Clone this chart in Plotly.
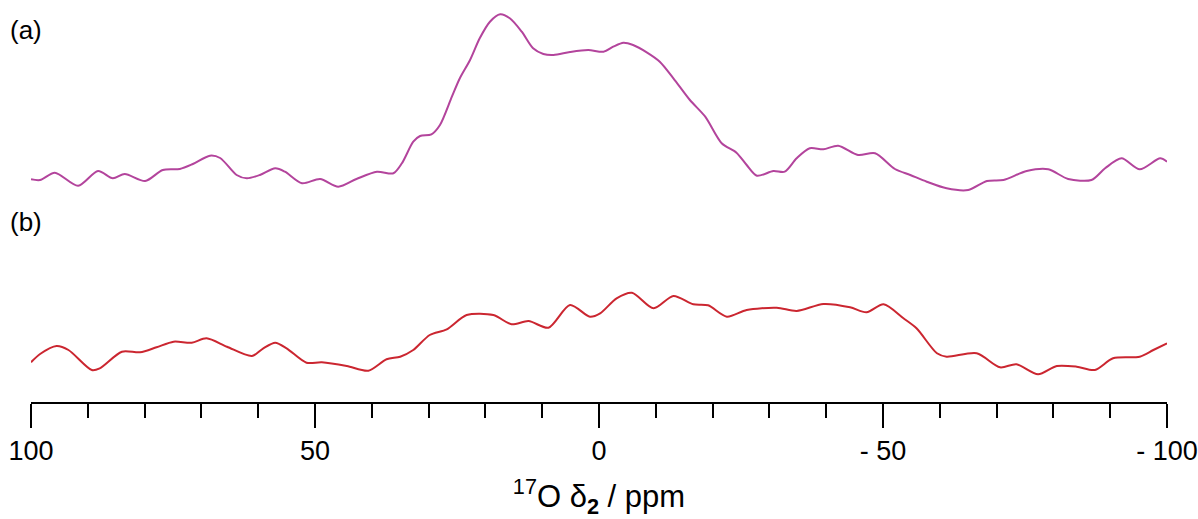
import plotly.graph_objects as go

# ---- data (chemical shift in ppm, intensity in arbitrary units) ----
ppm_a = [100, 98.4, 95.8, 91.7, 88.2, 85.6, 83.5, 79.9, 76.8, 73.8, 71.5, 68.5, 66.7, 63.8, 62.0,
         59.7, 57.0, 55.3, 52.3, 49.1, 45.9, 42.7, 39.1, 36.2, 34.7, 32.7, 31.5, 29.5, 28.0, 25.9,
         24.5, 22.7, 21.0, 19.2, 17.4, 15.7, 13.6, 11.6, 9.8, 8.0, 5.1, 1.9, -0.8, -2.5, -4.3,
         -6.0, -8.4, -10.7, -13.1, -16.0, -18.7, -21.6, -24.2, -26.0, -27.8, -30.7, -32.7, -34.8,
         -37.1, -39.5, -42.1, -45.6, -48.6, -52.1, -54.8, -57.7, -61.2, -65.0, -68.3, -71.2,
         -75.3, -79.1, -82.6, -86.7, -89.1, -92.0, -95.2, -98.8, -100]
int_a = [-1.3, -2, 5.3, -7.7, 7, -0.3, 4, -3, 8, 9, 14, 22.3, 20, 3, -0.3,
         3, 9.7, 6.3, -5.3, -1, -8.7, -1, 6.3, 4.7, 14.7, 36.3, 42, 43.7, 53, 81.3,
         99.7, 118, 139.7, 156.3, 163.7, 159.7, 146.3, 129.7, 124, 123, 126, 128, 126.3, 131.3, 135.3,
         133, 125.7, 116.3, 99.7, 78, 61.3, 34.7, 25.3, 13, 2.3, 7, 6.3, 19.7,
         29.7, 28.7, 32.3, 23, 24.7, 9, 3, -3.7, -10.3, -12, -3, -2,
         7, 8.7, -1, -2, 9.7, 19.7, 8.7, 19.7, 16.3]

ppm_b = [100, 98.4, 95.5, 93.4, 89.3, 87.9, 84.0, 80.8, 77.9, 74.9, 71.7, 69.1, 65.5, 61.1, 59.1,
         57.0, 55.0, 51.5, 48.8, 44.4, 40.6, 37.4, 35.0, 32.7, 29.8, 26.8, 23.3, 18.6, 15.4, 12.4,
         8.9, 5.1, 1.6, -0.2, -3.1, -5.8, -9.6, -13.1, -16.6, -19.2, -22.5, -26.0, -31.3, -34.8,
         -39.5, -44.2, -47.1, -50.1, -53.6, -55.9, -59.5, -61.2, -66.5, -70.6, -73.5, -77.3, -80.6,
         -84.1, -87.3, -90.5, -95.2, -97.6, -100]
int_b = [2.7, 11, 19, 15, -5, -3.3, 13.3, 12.7, 17.7, 23.3, 22.3, 26.7, 18.3, 9, 16.7,
         22.3, 16.7, 2.3, 2.7, -1, -5.7, 5.7, 8.3, 15, 30, 35.7, 50, 50, 40.7, 44,
         37.3, 60, 48.3, 51.7, 66.7, 72.3, 56.7, 69, 60.7, 59.7, 48.3, 55, 57.3, 54,
         61, 57.7, 52.7, 60.7, 46.7, 36.7, 11.7, 8.3, 11.7, -2.3, 0.7, -9.3, -1,
         -1.7, -5, 6.7, 8.3, 15, 21.7]

tick_vals = [100, 50, 0, -50, -100]
tick_text = ["100", "50", "0", "- 50", "- 100"]
labels = ["(a)", "(b)"]

OFFSET_A = 224
OFFSET_B = 37

fig = go.Figure()
fig.add_trace(go.Scatter(x=ppm_a, y=[v + OFFSET_A for v in int_a], mode="lines",
                         line=dict(color="#B3449C", width=2, shape="spline", smoothing=0.8),
                         showlegend=False, hoverinfo="skip"))
fig.add_trace(go.Scatter(x=ppm_b, y=[v + OFFSET_B for v in int_b], mode="lines",
                         line=dict(color="#CB2630", width=2, shape="spline", smoothing=0.8),
                         showlegend=False, hoverinfo="skip"))

fig.update_layout(
    width=1198, height=519,
    margin=dict(l=31, r=31, t=0, b=117),
    paper_bgcolor="white", plot_bgcolor="white",
    font=dict(family="Liberation Sans, Arial, sans-serif", color="black"),
    xaxis=dict(
        range=[100, -100], showgrid=False, zeroline=False,
        showline=True, linecolor="black", linewidth=1.5,
        ticks="outside", ticklen=24, tickwidth=1.5, tickcolor="black",
        tickvals=tick_vals, ticktext=tick_text,
        tickfont=dict(size=27, color="black"),
        ticklabelstandoff=0,
        minor=dict(ticks="outside", ticklen=14, tickwidth=1.5, tickcolor="black", dtick=10, showgrid=False),
        title=dict(text="<sup>17</sup>O δ<sub><b>2</b></sub> / ppm",
                   font=dict(size=31, color="black"), standoff=22),
    ),
    yaxis=dict(range=[0, 402], visible=False, showgrid=False, zeroline=False),
)

for lab, ypx in zip(labels, [30, 222]):
    fig.add_annotation(text=lab, xref="paper", yref="paper",
                       x=(8 - 31) / 1136, y=(402 - ypx) / 402,
                       xanchor="left", yanchor="middle", showarrow=False,
                       font=dict(size=26, color="black"))

fig.write_html("out.html")
